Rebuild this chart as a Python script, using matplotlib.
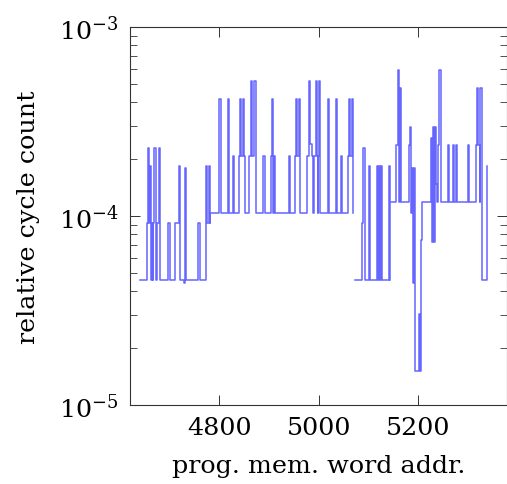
import matplotlib
matplotlib.use('Agg')
import matplotlib.pyplot as plt
from matplotlib.ticker import LogLocator, NullFormatter, NullLocator

# ---- data (step plot: address where each constant level starts, level value) ----
seg1_addr = [4641, 4655, 4657, 4659, 4660, 4663, 4664, 4666, 4667, 4669, 4672,
             4675, 4678, 4681, 4697, 4700, 4711, 4718, 4720, 4730, 4731, 4734,
             4758, 4761, 4773, 4774, 4776, 4779, 4781, 4782,
             4800, 4803, 4817, 4820, 4827, 4830, 4840, 4842, 4844, 4848, 4850,
             4852, 4860, 4863, 4866, 4870, 4873, 4888, 4891, 4903, 4905, 4907,
             4910, 4912, 4939, 4942, 4952, 4954, 4956, 4961, 4963, 4977, 4980,
             4983, 4986, 4988, 4990, 4994, 4996, 4998, 4999, 5000, 5003, 5018,
             5020, 5035, 5037, 5045, 5047, 5059, 5061, 5063, 5066, 5068]
seg1_val = [4.58e-5, 9.15e-5, 2.29e-4, 9.15e-5, 1.83e-4, 4.58e-5, 9.15e-5, 4.58e-5,
            9.15e-5, 2.29e-4, 4.58e-5, 9.15e-5, 2.29e-4, 4.58e-5, 9.15e-5, 4.58e-5,
            9.15e-5, 1.83e-4, 4.58e-5, 4.4e-5, 1.8e-4, 4.58e-5, 9.15e-5, 4.58e-5,
            9.15e-5, 1.83e-4, 9.15e-5, 1.83e-4, 9.15e-5, 1.04e-4,
            4.16e-4, 1.04e-4, 4.16e-4, 1.04e-4, 2.08e-4, 1.04e-4, 2.08e-4, 4.16e-4,
            2.08e-4, 4.16e-4, 2.08e-4, 1.04e-4, 2.08e-4, 5.2e-4, 2.08e-4, 5.2e-4,
            1.04e-4, 2.08e-4, 1.04e-4, 2.08e-4, 4.16e-4, 1.04e-4, 2.08e-4, 1.04e-4,
            2.08e-4, 1.04e-4, 2.08e-4, 4.16e-4, 2.08e-4, 4.16e-4, 1.04e-4, 2.08e-4,
            5.2e-4, 2.4e-4, 2.08e-4, 1.04e-4, 2.08e-4, 5.2e-4, 2.08e-4, 1.04e-4,
            2.08e-4, 5.2e-4, 1.04e-4, 4.16e-4, 1.04e-4, 4.16e-4, 1.04e-4, 2.08e-4,
            1.04e-4, 2.08e-4, 4.16e-4, 2.08e-4, 4.16e-4, 1.04e-4]

seg2_addr = [5073, 5087, 5089, 5092, 5100, 5102, 5116, 5119, 5120, 5123, 5124,
             5126, 5140, 5142]
seg2_val = [4.58e-5, 9.15e-5, 2.29e-4, 4.58e-5, 1.83e-4, 4.58e-5, 1.83e-4, 4.58e-5,
            1.83e-4, 4.58e-5, 1.83e-4, 4.58e-5, 1.83e-4, 4.58e-5]

seg3_addr = [5144, 5155, 5158, 5160, 5163, 5166, 5182, 5184, 5186, 5188, 5190,
             5191, 5193, 5194, 5201, 5203, 5205, 5206, 5208, 5226, 5228, 5230,
             5232, 5233, 5235, 5237, 5240, 5242, 5245, 5260, 5262, 5270, 5272,
             5276, 5278, 5300, 5302, 5315, 5317, 5319, 5323, 5324, 5327, 5338]
seg3_val = [1.19e-4, 2.38e-4, 5.95e-4, 1.19e-4, 4.76e-4, 1.19e-4, 2.38e-4, 2.97e-4,
            1.04e-4, 1.79e-4, 4.4e-5, 1.79e-4, 4.4e-5, 1.52e-5, 3.03e-5, 1.52e-5,
            6.0e-5, 7.5e-5, 1.19e-4, 2.58e-4, 7.3e-5, 2.94e-4, 7.3e-5, 2.94e-4,
            1.47e-4, 1.19e-4, 2.38e-4, 5.95e-4, 1.19e-4, 2.38e-4, 1.19e-4, 2.38e-4,
            1.19e-4, 2.38e-4, 1.19e-4, 2.38e-4, 1.19e-4, 2.38e-4, 4.76e-4, 2.38e-4,
            1.19e-4, 4.76e-4, 4.58e-5, 1.83e-4]

x_ticks = [4800, 5000, 5200]
x_tick_labels = ['4800', '5000', '5200']
x_label = 'prog. mem. word addr.'
y_label = 'relative cycle count'

# ---- style ----
plt.rcParams['font.family'] = ['DejaVu Serif']
plt.rcParams['mathtext.fontset'] = 'dejavuserif'
FS = 18.3
LINE = '#6666ff'
AXC = '#333333'

fig = plt.figure(figsize=(5.07, 4.85), dpi=100)
ax = fig.add_axes([129.5 / 507, 79 / 485, 377 / 507, 378 / 485])

for a, v in [(seg1_addr, seg1_val), (seg2_addr, seg2_val), (seg3_addr, seg3_val)]:
    ax.step(a, v, where='post', color=LINE, lw=1.1)

ax.set_yscale('log')
ax.set_ylim(1e-5, 1e-3)
ax.set_xlim(4619.5, 5377)
ax.set_xticks(x_ticks)
ax.set_xticklabels(x_tick_labels)
ax.xaxis.set_minor_locator(NullLocator())
ax.yaxis.set_major_locator(LogLocator(base=10, numticks=10))
ax.yaxis.set_minor_locator(LogLocator(base=10, subs=range(2, 10), numticks=20))
ax.yaxis.set_minor_formatter(NullFormatter())

for s in ax.spines.values():
    s.set_color(AXC)
    s.set_linewidth(0.8)

ax.tick_params(which='both', direction='in', top=True, right=True, color=AXC,
               labelcolor='black')
ax.tick_params(which='major', length=7.2, width=0.7, labelsize=FS, pad=8)
ax.tick_params(which='minor', length=4.8, width=0.6)

ax.set_xlabel(x_label, fontsize=FS, va='center')
ax.xaxis.set_label_coords(0.501, -0.161)
ax.set_ylabel(y_label, fontsize=FS, va='center')
ax.yaxis.set_label_coords(-0.267, 0.5)

fig.savefig('out.png', dpi=100)
